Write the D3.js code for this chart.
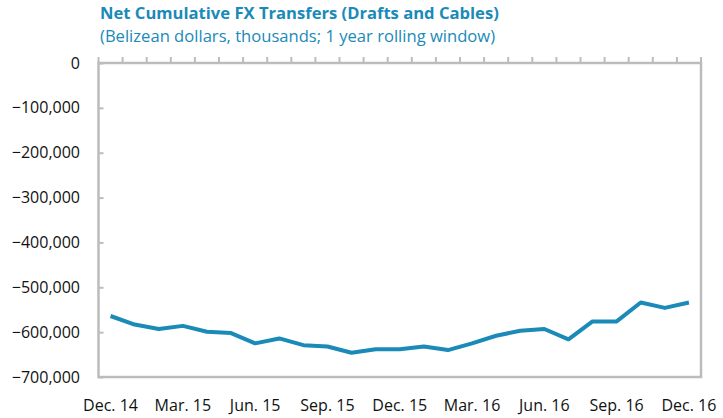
<!DOCTYPE html>
<html><head><meta charset="utf-8">
<script src="https://cdn.jsdelivr.net/npm/d3@7"></script>
<style>body{margin:0;background:#fff}svg{display:block}</style>
</head><body>
<script>
const categories = ["Dec. 14","Jan. 15","Feb. 15","Mar. 15","Apr. 15","May. 15","Jun. 15","Jul. 15","Aug. 15","Sep. 15","Oct. 15","Nov. 15","Dec. 15","Jan. 16","Feb. 16","Mar. 16","Apr. 16","May. 16","Jun. 16","Jul. 16","Aug. 16","Sep. 16","Oct. 16","Nov. 16","Dec. 16"];
const values = [-564000,-583000,-593000,-586000,-599000,-602000,-625000,-614000,-629000,-632000,-646000,-638000,-638000,-632000,-640000,-625000,-608000,-597000,-593000,-616000,-576000,-576000,-534000,-546000,-534000];
const yTicks = [0,-100000,-200000,-300000,-400000,-500000,-600000,-700000];
const labelEvery = 3;
const title = "Net Cumulative FX Transfers (Drafts and Cables)";
const subtitle = "(Belizean dollars, thousands; 1 year rolling window)";

const W = 723, H = 418;
const mLeft = 98.5, mRight = 701, mTop = 63, mBottom = 377;
const axisColor = "#bcbcbc", lineColor = "#1a8ab8", titleColor = "#1a8ab8";

const svg = d3.select("body").append("svg").attr("width", W).attr("height", H);

const x = d3.scaleBand().domain(categories).range([mLeft, mRight]).padding(0);
const y = d3.scaleLinear().domain([-700000, 0]).range([mBottom, mTop]);

svg.append("text").attr("x", 100).attr("y", 19).attr("fill", titleColor)
  .attr("font-family", "Open Sans").attr("font-weight", "bold").attr("font-size", 16.6).text(title);
svg.append("text").attr("x", 100).attr("y", 42).attr("fill", titleColor)
  .attr("font-family", "Open Sans").attr("font-size", 16.6).text(subtitle);

// plot border
svg.append("rect").attr("x", mLeft).attr("y", mTop).attr("width", mRight - mLeft).attr("height", mBottom - mTop)
  .attr("fill", "none").attr("stroke", axisColor).attr("stroke-width", 2.5);

// y axis
const fmt = d3.format(",");
const yAxis = d3.axisRight(y).tickValues(yTicks).tickSize(5).tickFormat("");
const gy = svg.append("g").attr("transform", `translate(${mLeft},0)`).call(yAxis);
gy.select(".domain").remove();
gy.selectAll(".tick line").attr("stroke", axisColor).attr("stroke-width", 2);
svg.append("g").selectAll("text").data(yTicks).join("text")
  .attr("x", 80).attr("y", d => y(d)).attr("dy", "0.35em").attr("text-anchor", "end")
  .attr("font-family", "Open Sans").attr("font-size", 16).attr("fill", "#111")
  .text(d => fmt(d));

// top category axis with ticks at boundaries
const bounds = d3.range(categories.length + 1).map(i => mLeft + i * x.bandwidth());
svg.append("g").selectAll("line").data(bounds).join("line")
  .attr("x1", d => d).attr("x2", d => d).attr("y1", mTop).attr("y2", mTop - 6)
  .attr("stroke", axisColor).attr("stroke-width", 2);

// category labels
svg.append("g").selectAll("text").data(categories.filter((c, i) => i % labelEvery === 0)).join("text")
  .attr("x", d => x(d) + x.bandwidth() / 2).attr("y", 411).attr("text-anchor", "middle")
  .attr("font-family", "Open Sans").attr("font-size", 16).attr("fill", "#111").text(d => d);

// line
const line = d3.line().x((d, i) => x(categories[i]) + x.bandwidth() / 2).y(d => y(d));
svg.append("path").datum(values).attr("d", line).attr("fill", "none")
  .attr("stroke", lineColor).attr("stroke-width", 4).attr("stroke-linejoin", "round");
</script>
</body></html>
